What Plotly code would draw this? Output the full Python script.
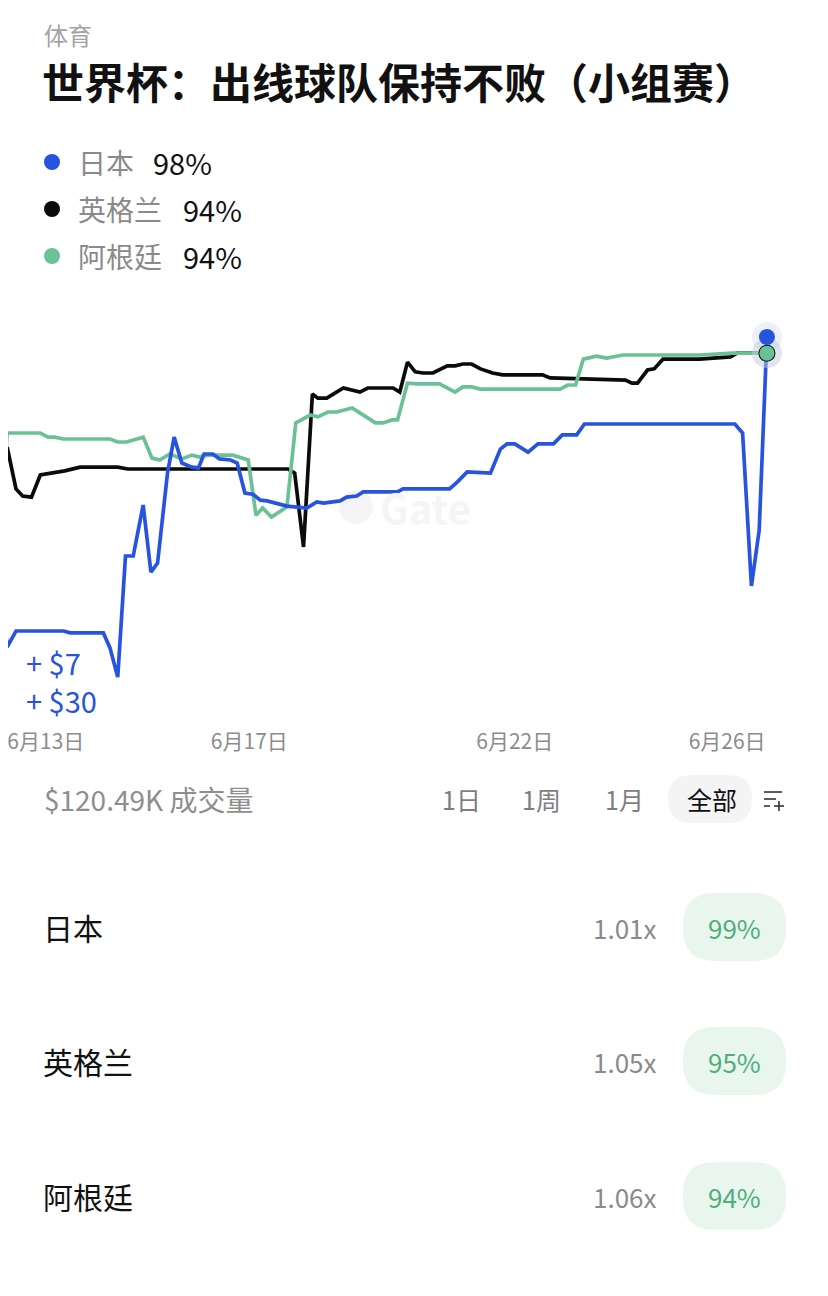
import pandas as pd
import plotly.graph_objects as go

# ---------------- data ----------------
category = "体育"
title = "世界杯：出线球队保持不败（小组赛）"
teams = ["日本", "英格兰", "阿根廷"]
legend_pct = ["98%", "94%", "94%"]
odds = ["1.01x", "1.05x", "1.06x"]
probs = ["99%", "95%", "94%"]
volume_text = "$120.49K 成交量"
ranges = ["1日", "1周", "1月", "全部"]
tick_dates = ["2026-06-13", "2026-06-17", "2026-06-22", "2026-06-26"]
tick_labels = ["6月13日", "6月17日", "6月22日", "6月26日"]
start = pd.Timestamp("2026-06-12 00:00")

# hours since 6/12 00:00, probability (%)
jp_h = [7, 10.5, 14.5, 36, 39, 54, 57, 60.5, 64, 67.5, 72, 75.5, 78.5, 83, 86, 89.5, 94, 97, 99.5, 103.5,
        106.5, 111.5, 114.5, 118, 121.5, 125, 128, 132.5, 137, 146, 150.5, 153.5, 161, 164, 168.5, 171.5,
        187, 189.5, 210.5, 214, 218.5, 229, 233.5, 236.5, 240, 246, 250.5, 257.5, 261.5, 268, 271.5,
        339.5, 343, 347, 350.5, 354]
jp_v = [38.5, 15.3, 19.6, 19.6, 19.1, 19.1, 15.1, 7.3, 39.6, 39.6, 53.2, 35.3, 37.7, 61.7, 71.3, 64.4, 63.3,
        63.1, 66.8, 66.8, 65.5, 65.2, 64.4, 56.4, 56.1, 54.5, 54.3, 53.5, 52.9, 52.4, 54.0, 53.7, 54.3, 55.3,
        55.6, 56.7, 56.7, 57.5, 57.5, 59.3, 62.0, 61.7, 68.1, 69.5, 69.5, 67.3, 69.5, 69.5, 71.9, 71.9, 74.8,
        74.8, 72.4, 31.6, 46.5, 98.0]

en_h = [10.5, 14.5, 17.5, 21.5, 25.5, 29, 32, 36.5, 43.5, 60.5, 65, 137.5, 140.5, 144.5, 148.5, 151, 155,
        162.5, 170, 173.5, 185, 188, 191.5, 195, 198.5, 203, 209.5, 213, 216.5, 220.5, 224.5, 230, 234.5,
        252.5, 256, 290, 293, 295.5, 300, 303, 307, 323.5, 337.5, 340.5, 354]
en_v = [68.7, 57.5, 55.6, 55.3, 61.2, 61.5, 62.0, 62.3, 63.3, 63.3, 62.8, 62.8, 61.7, 42.0, 82.8, 81.7, 81.7,
        84.4, 83.3, 84.4, 84.4, 83.3, 91.3, 88.7, 88.4, 88.4, 90.3, 90.3, 90.8, 90.8, 89.5, 88.4, 87.9, 87.9,
        87.1, 86.5, 85.7, 85.7, 89.2, 89.5, 92.1, 92.1, 92.7, 93.7, 93.7]

ar_h = [7, 10.5, 25.5, 29, 32, 36, 57, 60.5, 64.5, 72, 76, 79.5, 84, 89.5, 94, 97.5, 101, 112.5, 119.5, 123,
        126, 130, 137, 141, 147.5, 151, 155.5, 159.5, 166.5, 171.5, 177, 180.5, 184.5, 187, 191.5, 196, 206,
        213, 216.5, 220.5, 224.5, 260.5, 264, 267.5, 271, 277, 281.5, 289, 323.5, 338.5, 354]
ar_v = [39.3, 72.4, 72.4, 71.3, 71.3, 70.8, 70.8, 70.0, 70.0, 71.3, 65.7, 65.2, 66.8, 65.5, 66.5, 66.0, 66.5,
        66.5, 65.2, 50.5, 52.4, 50.0, 52.7, 75.1, 77.2, 76.7, 78.0, 78.0, 79.1, 77.2, 75.1, 75.1, 75.9, 75.9,
        85.7, 85.5, 85.5, 83.3, 84.7, 84.7, 84.1, 84.1, 85.2, 85.2, 92.1, 92.9, 92.4, 93.2, 93.2, 93.7, 93.7]

trade_notes = ["+ $7", "+ $30"]

# ---------------- styles ----------------
BLUE = "#2754DE"
BLACK = "#0B0B0B"
GREEN = "#6BC196"
FONT = "Noto Sans CJK SC, Noto Sans, sans-serif"
OFF = 8                      # page body margin
W, H = 828 - OFF, 1296 - OFF


def px(x):
    return (x - OFF) / W


def py(y):
    return 1 - (y - OFF) / H


def to_t(hours):
    return start + pd.to_timedelta(pd.Series(hours, dtype=float), unit="h")


fig = go.Figure()

series = [(teams[1], en_h, en_v, BLACK), (teams[2], ar_h, ar_v, GREEN), (teams[0], jp_h, jp_v, BLUE)]
for name, hh, vv, col in series:
    fig.add_trace(go.Scatter(x=to_t(hh), y=vv, mode="lines", name=name,
                             line=dict(color=col, width=3.7, shape="linear"),
                             hoverinfo="skip", showlegend=False))

# end-point dots with soft halo
ends = [(en_h, en_v, BLACK, 17), (ar_h, ar_v, GREEN, 15), (jp_h, jp_v, BLUE, 16)]
for hh, vv, col, sz in ends:
    fig.add_trace(go.Scatter(x=to_t(hh[-1:]), y=vv[-1:], mode="markers",
                             marker=dict(size=30, color="rgba(195,205,225,0.3)"),
                             hoverinfo="skip", showlegend=False))
for hh, vv, col, sz in ends:
    fig.add_trace(go.Scatter(x=to_t(hh[-1:]), y=vv[-1:], mode="markers",
                             marker=dict(size=sz, color=col),
                             hoverinfo="skip", showlegend=False))

# x range: page pixel 8 .. 828  (37 px = 6/13 00:00, 2.212 px per hour)
x0 = start + pd.Timedelta(hours=24 + (OFF - 37) * 0.4521)
x1 = start + pd.Timedelta(hours=24 + (828 - 37) * 0.4521)

# first tick nudged right a little so its label stays inside the page edge
tickvals = list(pd.to_datetime(tick_dates))
tickvals[0] = tickvals[0] + pd.Timedelta(hours=4)

shapes = []
ann = []

# header
ann.append(dict(text=category, x=px(42), y=py(35), font=dict(size=24, color="#A3A3A3")))
ann.append(dict(text="<b>" + title + "</b>", x=px(40), y=py(80), font=dict(size=42, color="#111111")))

# legend
leg_cols = [BLUE, BLACK, GREEN]
leg_y = [162, 209, 256]
pct_x = [151, 181, 181]
for i in range(3):
    shapes.append(dict(type="circle", xref="paper", yref="paper", xsizemode="pixel", ysizemode="pixel",
                       xanchor=px(52), yanchor=py(leg_y[i]), x0=-8, x1=8, y0=-8, y1=8,
                       fillcolor=leg_cols[i], line=dict(width=0)))
    ann.append(dict(text=teams[i], x=px(76), y=py(leg_y[i]), font=dict(size=28, color="#8A8A8A")))
    ann.append(dict(text=legend_pct[i], x=px(pct_x[i]), y=py(leg_y[i]), font=dict(size=29, color="#111111")))

# watermark
shapes.append(dict(type="circle", xref="paper", yref="paper", xsizemode="pixel", ysizemode="pixel",
                   xanchor=px(356), yanchor=py(507), x0=-17, x1=17, y0=-17, y1=17,
                   fillcolor="#F5F5F7", line=dict(width=0), layer="below"))
ann.append(dict(text="<b>Gate</b>", x=px(378), y=py(507), font=dict(size=40, color="#F5F5F7")))

# trade notes
ann.append(dict(text=trade_notes[0], x=px(24), y=py(662), font=dict(size=29, color=BLUE)))
ann.append(dict(text=trade_notes[1], x=px(24), y=py(700), font=dict(size=29, color=BLUE)))

# volume + range buttons
ann.append(dict(text=volume_text, x=px(42), y=py(799), font=dict(size=28, color="#8E8E8E")))
btn_x = [440, 520, 603, 685]


def rrect(xa, ya, xb, yb, r, fill):
    pth = (f"M {px(xa + r)},{py(ya)} L {px(xb - r)},{py(ya)} Q {px(xb)},{py(ya)} {px(xb)},{py(ya + r)} "
           f"L {px(xb)},{py(yb - r)} Q {px(xb)},{py(yb)} {px(xb - r)},{py(yb)} "
           f"L {px(xa + r)},{py(yb)} Q {px(xa)},{py(yb)} {px(xa)},{py(yb - r)} "
           f"L {px(xa)},{py(ya + r)} Q {px(xa)},{py(ya)} {px(xa + r)},{py(ya)} Z")
    return dict(type="path", xref="paper", yref="paper", path=pth, fillcolor=fill,
                line=dict(width=0), layer="below")


shapes.append(rrect(668, 775, 752, 823, 24, "#F4F4F5"))
for i, r in enumerate(ranges):
    ann.append(dict(text=r, x=px(btn_x[i]), y=py(799),
                    font=dict(size=25, color="#111111" if i == 3 else "#7E7E7E")))
# filter icon
for yy, xa, xb in [(792, 764, 782), (799, 764, 776), (806, 764, 770)]:
    shapes.append(dict(type="line", xref="paper", yref="paper", x0=px(xa), x1=px(xb), y0=py(yy), y1=py(yy),
                       line=dict(color="#333333", width=1.6)))
shapes.append(dict(type="line", xref="paper", yref="paper", x0=px(774), x1=px(784), y0=py(806), y1=py(806),
                   line=dict(color="#333333", width=1.6)))
shapes.append(dict(type="line", xref="paper", yref="paper", x0=px(779), x1=px(779), y0=py(801), y1=py(811),
                   line=dict(color="#333333", width=1.6)))

# outcome rows
row_y = [927, 1061, 1196]
for i in range(3):
    ann.append(dict(text=teams[i], x=px(41), y=py(row_y[i]), font=dict(size=30, color="#111111")))
    ann.append(dict(text=odds[i], x=px(659), y=py(row_y[i]), xanchor="right",
                    font=dict(size=26, color="#8A8A8A")))
    shapes.append(rrect(683, row_y[i] - 34, 786, row_y[i] + 34, 32, "#E8F6EE"))
    ann.append(dict(text=probs[i], x=px(734.5), y=py(row_y[i]), xanchor="center",
                    font=dict(size=26, color="#4DAE7C")))

annotations = []
for a in ann:
    d = dict(xref="paper", yref="paper", showarrow=False, xanchor="left", yanchor="middle")
    d.update(a)
    annotations.append(d)

fig.update_layout(
    width=W, height=H,
    margin=dict(l=0, r=0, t=0, b=0, autoexpand=False),
    paper_bgcolor="white", plot_bgcolor="white",
    font=dict(family=FONT),
    showlegend=False,
    hovermode=False,
    xaxis=dict(type="date", range=[x0, x1], domain=[0, 1], automargin=False,
               tickvals=tickvals, ticktext=tick_labels,
               showgrid=False, zeroline=False, showline=False, ticks="",
               ticklabeloverflow="allow",
               tickfont=dict(size=21, color="#8C8C8C"), ticklabelstandoff=7),
    yaxis=dict(range=[-4.13, 107.87], domain=[py(720), py(300)], automargin=False,
               showgrid=False, zeroline=False, showline=False, showticklabels=False),
    shapes=shapes,
    annotations=annotations,
)

fig.write_html("out.html")
